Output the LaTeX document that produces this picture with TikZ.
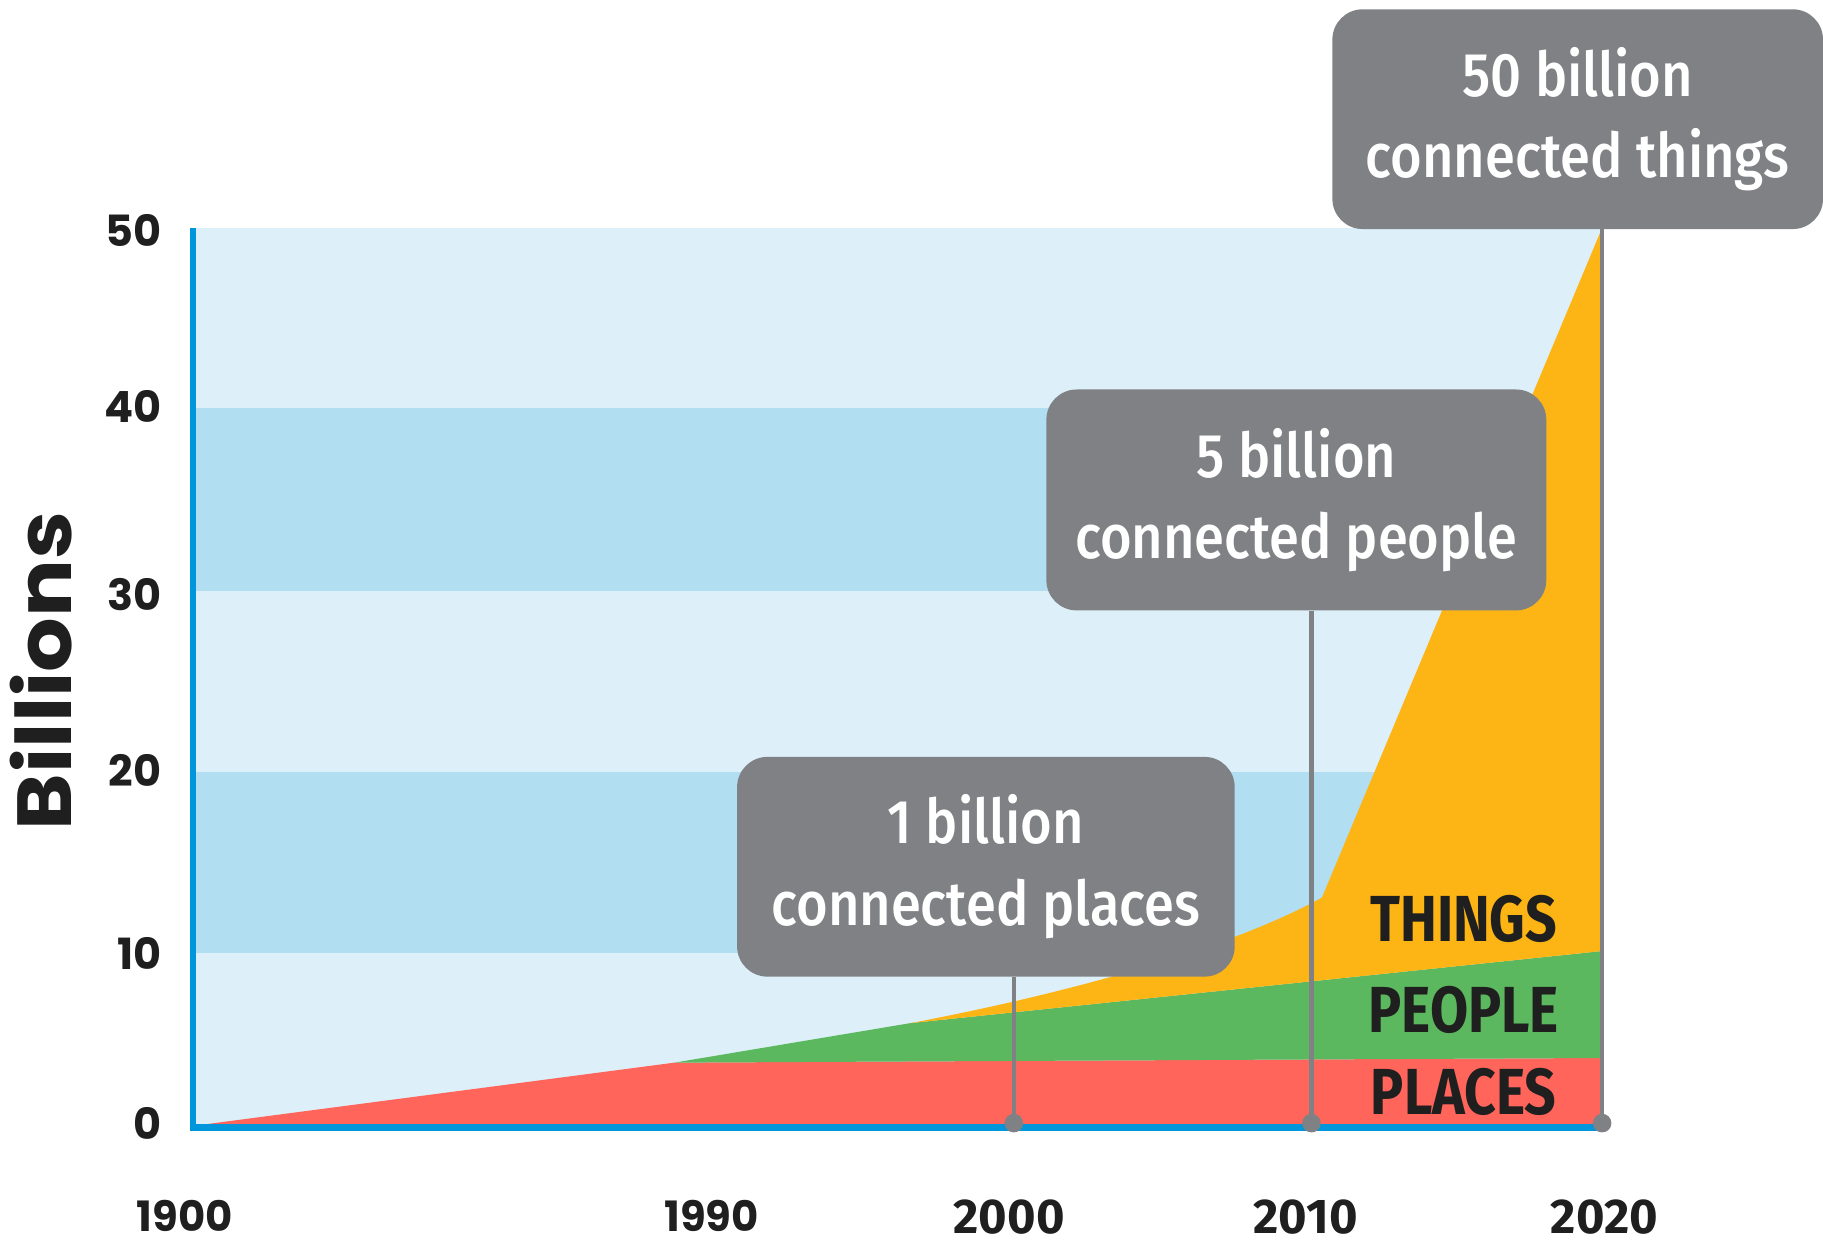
\documentclass[tikz,border=0pt]{standalone}
\usepackage{fontspec}
\setmainfont{Fira Sans}
\newfontfamily\boxfont[FakeStretch=0.88]{Fira Sans Medium}
\newfontfamily\labfont[FakeStretch=0.85]{Fira Sans}
\newfontfamily\yrfont{Fira Sans}
\newfontfamily\tickfont{Poppins}
\newfontfamily\titlefont[FakeStretch=1.12]{Poppins}
\definecolor{bgblue}{HTML}{DDEFF9}
\definecolor{bandblue}{HTML}{B2DEF2}
\definecolor{axisblue}{HTML}{0096DB}
\definecolor{placesred}{HTML}{FF655B}
\definecolor{peoplegreen}{HTML}{5CB85F}
\definecolor{thingsyellow}{HTML}{FDB515}
\definecolor{calloutgray}{HTML}{808185}
\definecolor{inkdark}{HTML}{1F1F1F}
\begin{document}
\begin{tikzpicture}[x=1pt,y=-1pt,
  callout/.style={fill=calloutgray, rounded corners=26pt, text=white, align=center,
    font=\boxfont\fontsize{53}{70}\selectfont, inner sep=0pt},
  conn/.style={draw=calloutgray, line width=4pt},
  dotmark/.style={circle, fill=calloutgray, minimum size=16pt, inner sep=0pt},
  axisline/.style={draw=axisblue, line width=6pt},
  serieslab/.style={text=inkdark, font=\labfont\bfseries\fontsize{56}{56}\selectfont, inner sep=0pt},
  ytick/.style={text=inkdark, font=\tickfont\bfseries\fontsize{37}{37}\selectfont, anchor=east, inner sep=0pt},
  xtick/.style={text=inkdark, font=\tickfont\bfseries\fontsize{36}{36}\selectfont, inner sep=0pt},
  xtickb/.style={text=inkdark, font=\yrfont\bfseries\fontsize{42}{42}\selectfont, inner sep=0pt}]
\useasboundingbox (0,0) rectangle (1568,1071);
% background and bands
\fill[bgblue] (169,196) rectangle (1378,968);
\fill[bandblue] (169,351) rectangle (1378,508);
\fill[bandblue] (169,664) rectangle (1378,820);
% stacked areas
\fill[placesred] (169,968) -- (580,914) -- (1378,910) -- (1378,968) -- cycle;
\fill[peoplegreen] (580,914) -- (783,880) -- (1378,818) -- (1378,910) -- cycle;
\fill[thingsyellow] (783,880) .. controls (900,858) and (1050,820) .. (1137,772)
  -- (1378,196) -- (1378,818) -- cycle;
% axes
\draw[axisline] (166,196) -- (166,970) -- (1378,970);
% connectors
\node[dotmark] (d1) at (872,966) {};
\node[dotmark] (d2) at (1128,966) {};
\node[dotmark] (d3) at (1378,966) {};
% callouts
\node[callout, minimum width=428pt, minimum height=189pt] (b1) at (848,745.5)
  {1 billion\\connected places};
\node[callout, minimum width=430pt, minimum height=190pt] (b2) at (1115,430)
  {5 billion\\connected people};
\node[callout, minimum width=422pt, minimum height=189pt] (b3) at (1357,102.5)
  {50 billion\\connected things};
\draw[conn] (b1.south -| d1) -- (d1.center);
\draw[conn] (b2.south -| d2) -- (d2.center);
\draw[conn] (b3.south -| d3) -- (d3.center);
% series labels
\node[serieslab] (lt) at (1259,790) {THINGS};
\node[serieslab] (lpe) at (1259,869) {PEOPLE};
\node[serieslab] (lpl) at (1259,939) {PLACES};
% y ticks
\node[ytick] (y50) at (139,198) {50};
\node[ytick] (y40) at (139,350) {40};
\node[ytick] (y30) at (139,511) {30};
\node[ytick] (y20) at (139,663) {20};
\node[ytick] (y10) at (139,820) {10};
\node[ytick] (y0) at (139,966) {0};
% x ticks
\node[xtick] (x1900) at (159,1046) {1900};
\node[xtick] (x1990) at (612,1046) {1990};
\node[xtickb] (x2000) at (868,1047) {2000};
\node[xtickb] (x2010) at (1123,1047) {2010};
\node[xtickb] (x2020) at (1380,1047) {2020};
% axis title
\node[rotate=90, text=inkdark, font=\titlefont\bfseries\fontsize{66}{66}\selectfont, inner sep=0pt] (ttl) at (35,577) {Billions};
\end{tikzpicture}
\end{document}
